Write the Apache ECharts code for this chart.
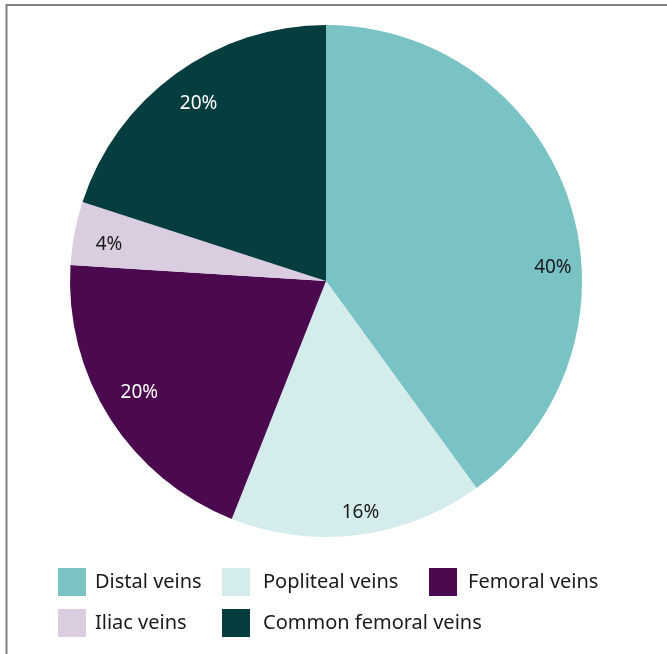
<!DOCTYPE html>
<html>
<head>
<meta charset="utf-8">
<script src="https://cdn.jsdelivr.net/npm/echarts@6/dist/echarts.min.js"></script>
<style>
html, body { margin: 0; padding: 0; background: #fff; }
#chart { width: 667px; height: 654px; }
</style>
</head>
<body>
<div id="chart"></div>
<script>
var categories = ["Distal veins", "Popliteal veins", "Femoral veins", "Iliac veins", "Common femoral veins"];
var shares = [40, 16, 20, 4, 20];
var colors = ["#79c3c5", "#d4ecec", "#4b0a50", "#dacde0", "#063d3f"];

var chart = echarts.init(document.getElementById("chart"));

var pieData = categories.map(function (name, i) {
    return { name: name, value: shares[i], itemStyle: { color: colors[i] } };
});

// one legend per item so the columns line up like the original
var legendPos = [
    { left: 58, top: 568, gap: 4 },
    { left: 222, top: 568, gap: 8 },
    { left: 429, top: 568, gap: 6 },
    { left: 58, top: 609, gap: 4 },
    { left: 222, top: 609, gap: 8 }
];
var legends = categories.map(function (name, i) {
    return {
        data: [name],
        left: legendPos[i].left,
        top: legendPos[i].top,
        padding: 0,
        itemWidth: 28,
        itemHeight: 28,
        icon: "rect",
        selectedMode: false,
        textStyle: {
            fontFamily: "Noto Sans",
            fontSize: 20,
            color: "#1a1a1a",
            padding: [0, 0, 0, legendPos[i].gap]
        }
    };
});

chart.setOption({
    animation: false,
    legend: legends,
    graphic: [
        { type: "line", shape: { x1: 6, y1: 5, x2: 667, y2: 5 }, style: { stroke: "#808080", lineWidth: 2 } },
        { type: "line", shape: { x1: 6.5, y1: 4, x2: 6.5, y2: 654 }, style: { stroke: "#808080", lineWidth: 2 } }
    ],
    series: [
        {
            name: "pie",
            type: "pie",
            center: [326, 281],
            radius: [0, 256],
            startAngle: 90,
            clockwise: true,
            label: { show: false },
            labelLine: { show: false },
            emphasis: { disabled: true },
            data: pieData
        },
        {
            // transparent ring that only carries the labels near the rim
            name: "labels",
            type: "pie",
            center: [326, 281],
            radius: [192, 256],
            startAngle: 90,
            clockwise: true,
            silent: true,
            label: {
                show: true,
                position: "inside",
                formatter: "{c}%",
                fontFamily: "Noto Sans",
                fontSize: 19
            },
            labelLine: { show: false },
            // the big slice's label sits lower in the original
            labelLayout: function (p) {
                if (p.dataIndex === 0) return { dx: 11, dy: 57 };
                if (p.dataIndex === 2) return { dx: 5, dy: -10 };
                return { dx: 6, dy: 6 };
            },
            emphasis: { disabled: true },
            data: categories.map(function (name, i) {
                var dark = i === 2 || i === 4;
                return {
                    name: name,
                    value: shares[i],
                    itemStyle: { color: "rgba(0,0,0,0)" },
                    label: { color: dark ? "#ffffff" : "#1a1a1a" }
                };
            })
        }
    ]
});
</script>
</body>
</html>
